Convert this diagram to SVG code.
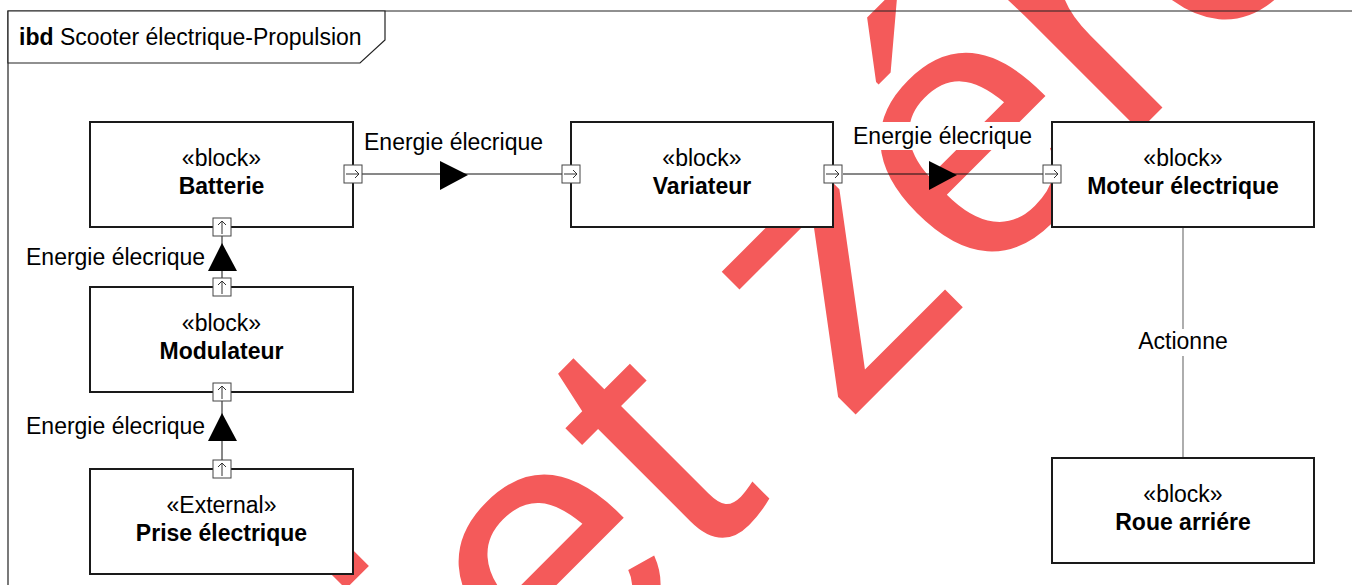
<svg xmlns="http://www.w3.org/2000/svg" width="1352" height="585" viewBox="0 0 1352 585">
  <style>
    text { font-family: "Liberation Sans", Arial, sans-serif; font-size: 23px; fill: #000; }
    .name { font-weight: bold; }
    .wm { font-size: 370px; fill: #f45a5a; }
    .block { fill: #fff; stroke: #1a1a1a; stroke-width: 2; }
    .port { fill: #fff; stroke: #444; stroke-width: 1; }
    .portArrow { fill: none; stroke: #333; stroke-width: 1; }
    .flow { fill: none; stroke: #111; stroke-width: 1; }
    .assoc { fill: none; stroke: #777; stroke-width: 1.2; }
    .head { fill: #000; stroke: none; }
    .lblbg { fill: #fff; stroke: none; }
    .frame { fill: none; stroke: #222; stroke-width: 1.2; }
  </style>
  <defs>
    <!-- small in-port arrows -->
    <g id="arrowRight" class="portArrow">
      <path d="M-7 0 H6 M2 -4 L6 0 L2 4"/>
    </g>
    <g id="arrowUp" class="portArrow">
      <path d="M0 7 V-6 M-4 -2 L0 -6 L4 -2"/>
    </g>
  </defs>

  <rect x="0" y="0" width="1352" height="585" fill="#fff"/>

  <!-- background stamp -->
  <text class="wm" transform="translate(496 774) rotate(-45)">jet zéro</text>

  <!-- diagram frame and header -->
  <g id="frame">
    <path class="frame" d="M1360 11 H8 V590"/>
    <path d="M8 11 H385 V40 L360 63 H8 Z" fill="#fff" stroke="#222" stroke-width="1.2"/>
    <text x="19" y="45"><tspan class="name">ibd</tspan> Scooter électrique-Propulsion</text>
  </g>

  <!-- connectors -->
  <g id="connectors">
    <g id="c-batterie-variateur">
      <line class="flow" x1="362" y1="174" x2="562" y2="174"/>
      <polygon class="head" points="440,161 468,175 440,190"/>
      <rect class="lblbg" x="361" y="127" width="186" height="28"/>
      <text x="364" y="150">Energie élecrique</text>
    </g>
    <g id="c-variateur-moteur">
      <line class="flow" x1="843" y1="174" x2="1043" y2="174"/>
      <polygon class="head" points="929,161 957,175 929,190"/>
      <rect class="lblbg" x="850" y="122" width="186" height="28"/>
      <text x="853" y="144">Energie élecrique</text>
    </g>
    <g id="c-modulateur-batterie">
      <line class="flow" x1="222" y1="278" x2="222" y2="236"/>
      <polygon class="head" points="222,243 237,271 208,271"/>
      <text x="26" y="265">Energie élecrique</text>
    </g>
    <g id="c-prise-modulateur">
      <line class="flow" x1="222" y1="460" x2="222" y2="401"/>
      <polygon class="head" points="222,413 237,441 208,441"/>
      <text x="26" y="434">Energie élecrique</text>
    </g>
    <g id="c-moteur-roue">
      <line class="assoc" x1="1183" y1="227" x2="1183" y2="458"/>
      <rect class="lblbg" x="1135" y="329" width="96" height="27"/>
      <text x="1183" y="349" text-anchor="middle">Actionne</text>
    </g>
  </g>

  <!-- blocks -->
  <g id="batterie">
    <rect class="block" x="90" y="122" width="263" height="105"/>
    <text x="221.5" y="166" text-anchor="middle">«block»</text>
    <text class="name" x="221.5" y="194" text-anchor="middle">Batterie</text>
    <rect class="port" x="344" y="165" width="18" height="18"/>
    <use href="#arrowRight" x="353" y="174"/>
    <rect class="port" x="213" y="218" width="18" height="18"/>
    <use href="#arrowUp" x="222" y="227"/>
  </g>

  <g id="modulateur">
    <rect class="block" x="90" y="287" width="263" height="105"/>
    <text x="221.5" y="331" text-anchor="middle">«block»</text>
    <text class="name" x="221.5" y="359" text-anchor="middle">Modulateur</text>
    <rect class="port" x="213" y="278" width="18" height="18"/>
    <use href="#arrowUp" x="222" y="287"/>
    <rect class="port" x="213" y="383" width="18" height="18"/>
    <use href="#arrowUp" x="222" y="392"/>
  </g>

  <g id="prise">
    <rect class="block" x="90" y="469" width="263" height="105"/>
    <text x="221.5" y="513" text-anchor="middle">«External»</text>
    <text class="name" x="221.5" y="541" text-anchor="middle">Prise électrique</text>
    <rect class="port" x="213" y="460" width="18" height="18"/>
    <use href="#arrowUp" x="222" y="469"/>
  </g>

  <g id="variateur">
    <rect class="block" x="571" y="122" width="262" height="105"/>
    <text x="702" y="166" text-anchor="middle">«block»</text>
    <text class="name" x="702" y="194" text-anchor="middle">Variateur</text>
    <rect class="port" x="562" y="165" width="18" height="18"/>
    <use href="#arrowRight" x="571" y="174"/>
    <rect class="port" x="824" y="165" width="18" height="18"/>
    <use href="#arrowRight" x="833" y="174"/>
  </g>

  <g id="moteur">
    <rect class="block" x="1052" y="122" width="262" height="105"/>
    <text x="1183" y="166" text-anchor="middle">«block»</text>
    <text class="name" x="1183" y="194" text-anchor="middle">Moteur électrique</text>
    <rect class="port" x="1043" y="165" width="18" height="18"/>
    <use href="#arrowRight" x="1052" y="174"/>
  </g>

  <g id="roue">
    <rect class="block" x="1052" y="458" width="262" height="105"/>
    <text x="1183" y="502" text-anchor="middle">«block»</text>
    <text class="name" x="1183" y="530" text-anchor="middle">Roue arriére</text>
  </g>
</svg>
